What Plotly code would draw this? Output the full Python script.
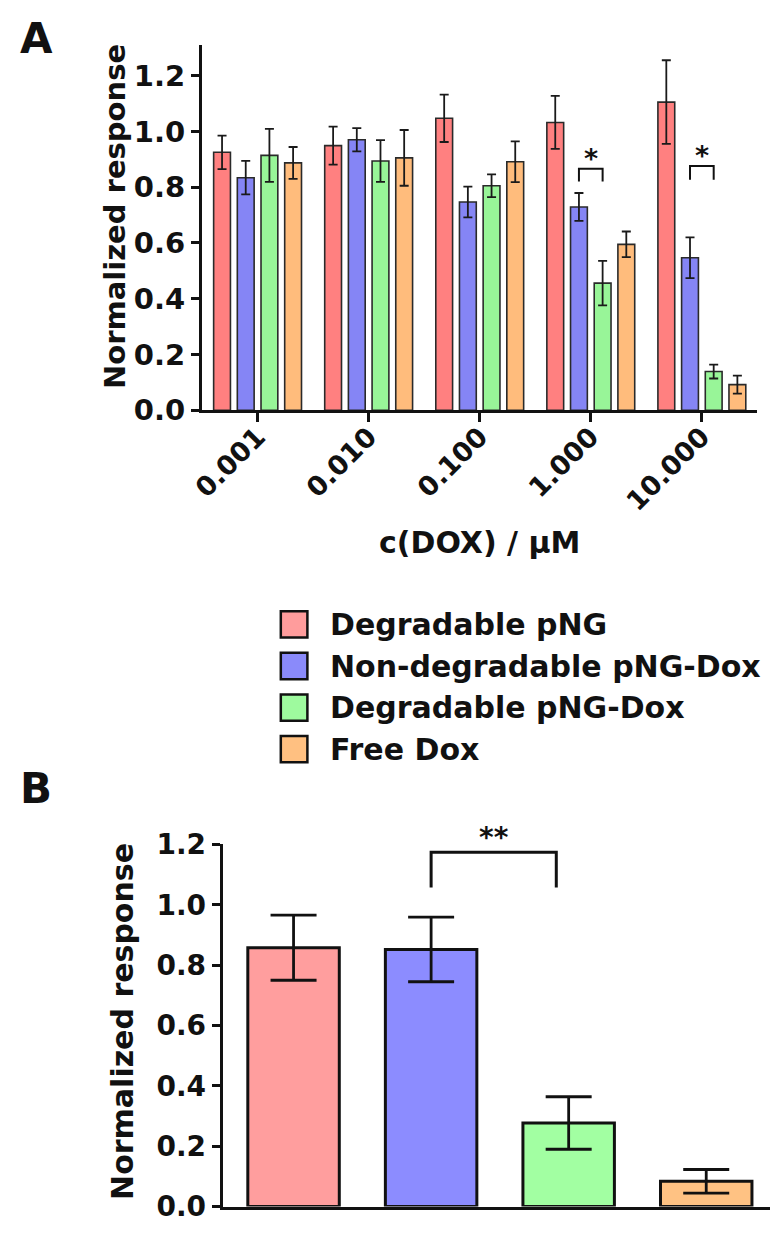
import plotly.graph_objects as go

# ---------------- data ----------------
concentrations = ["0.001", "0.010", "0.100", "1.000", "10.000"]
series_names = ["Degradable pNG", "Non-degradable pNG-Dox", "Degradable pNG-Dox", "Free Dox"]

a_deg_png = [0.925, 0.949, 1.047, 1.032, 1.105]
a_deg_png_err = [0.060, 0.068, 0.085, 0.095, 0.150]
a_nondeg_pngdox = [0.834, 0.970, 0.747, 0.729, 0.547]
a_nondeg_pngdox_err = [0.060, 0.042, 0.055, 0.050, 0.073]
a_deg_pngdox = [0.914, 0.894, 0.805, 0.456, 0.139]
a_deg_pngdox_err = [0.095, 0.075, 0.041, 0.080, 0.025]
a_free_dox = [0.887, 0.905, 0.891, 0.595, 0.092]
a_free_dox_err = [0.057, 0.100, 0.073, 0.046, 0.032]

b_values = [0.858, 0.852, 0.277, 0.084]
b_errors = [0.108, 0.107, 0.087, 0.039]

# significance brackets: (category, top, leg bottom, label)
a_brackets = [("1.000", 0.866, 0.820, "*"), ("10.000", 0.876, 0.827, "*")]
# panel B: (from x, to x, top, leg bottom, label)
b_brackets = [(1.0, 1.91, 1.174, 1.057, "**")]

a_values = [a_deg_png, a_nondeg_pngdox, a_deg_pngdox, a_free_dox]
a_errors = [a_deg_png_err, a_nondeg_pngdox_err, a_deg_pngdox_err, a_free_dox_err]

colors_a = ["#FF8080", "#8585F5", "#98F598", "#FFBC7C"]
colors_b = ["#FF9E9E", "#8C8CFF", "#A2FFA2", "#FFC283"]
colors_leg = ["#FF9C9C", "#8A8AFA", "#9EFA9E", "#FFC081"]

FONT = "DejaVu Sans"
W, H = 782, 1246
BARGAP_A = 0.147

fig = go.Figure()

for i, name in enumerate(series_names):
    fig.add_trace(go.Bar(
        x=concentrations, y=a_values[i], name=name,
        marker=dict(color=colors_a[i], line=dict(color="#2a2a2a", width=1.6)),
        error_y=dict(type="data", array=a_errors[i], visible=True,
                     color="#1a1a1a", thickness=1.8, width=4.5),
        xaxis="x", yaxis="y", showlegend=False,
    ))

fig.add_trace(go.Bar(
    x=list(range(len(b_values))), y=b_values,
    marker=dict(color=colors_b, line=dict(color="#111111", width=3)),
    error_y=dict(type="data", array=b_errors, visible=True,
                 color="#111111", thickness=2.8, width=23),
    xaxis="x2", yaxis="y2", showlegend=False, width=0.665,
))

# ---- brackets panel A ----
n = len(series_names)
slot = (1 - BARGAP_A) / n
off_blue = -(1 - BARGAP_A) / 2 + slot * 1.5
off_green = -(1 - BARGAP_A) / 2 + slot * 2.5
shapes = []
annotations = []
for cat, top, bot, lab in a_brackets:
    c = concentrations.index(cat)
    x0, x1 = c + off_blue, c + off_green
    shapes.append(dict(type="path", xref="x", yref="y",
                       path=f"M{x0},{bot} L{x0},{top} L{x1},{top} L{x1},{bot}",
                       line=dict(color="#111111", width=2)))
    annotations.append(dict(x=c, y=top, xref="x", yref="y", text=lab, showarrow=False,
                            yanchor="bottom", yshift=-7,
                            font=dict(family=FONT, size=27, color="#111111", weight="bold")))

for x0, x1, top, bot, lab in b_brackets:
    shapes.append(dict(type="path", xref="x2", yref="y2",
                       path=f"M{x0},{bot} L{x0},{top} L{x1},{top} L{x1},{bot}",
                       line=dict(color="#111111", width=3)))
    annotations.append(dict(x=(x0 + x1) / 2, y=top, xref="x2", yref="y2", text=lab,
                            showarrow=False, yanchor="bottom", yshift=-4,
                            font=dict(family=FONT, size=28, color="#111111", weight="bold")))

# ---- custom legend (large boxes) ----
leg_box_left, leg_box_right = 273, 300
leg_text_x = 321
leg_first_center, leg_pitch, leg_box_h = 625, 42.7, 27
for i, name in enumerate(series_names):
    cy = leg_first_center + i * leg_pitch
    shapes.append(dict(type="rect", xref="paper", yref="paper",
                       x0=leg_box_left / W, x1=leg_box_right / W,
                       y0=1 - (cy + leg_box_h / 2) / H, y1=1 - (cy - leg_box_h / 2) / H,
                       fillcolor=colors_leg[i], line=dict(color="#111111", width=2.5)))
    annotations.append(dict(x=leg_text_x / W, y=1 - cy / H, xref="paper", yref="paper",
                            text=name, showarrow=False, xanchor="left", yanchor="middle",
                            font=dict(family=FONT, size=30, color="#111111", weight="bold")))

# ---- titles / panel labels ----
def txt(x, y, s, size, angle=0):
    annotations.append(dict(x=x / W, y=1 - y / H, xref="paper", yref="paper", text=s,
                            showarrow=False, textangle=angle, xanchor="center", yanchor="middle",
                            font=dict(family=FONT, size=size, color="#111111", weight="bold")))

txt(25, 23, "A", 42)
txt(24, 794, "B", 42)
txt(104, 206, "Normalized response", 29, -90)
txt(475, 541, "c(DOX) / µM", 30)
txt(112, 1033, "Normalized response", 30, -90)

tickfont_a = dict(family=FONT, size=29, color="#111111", weight="bold")
tickfont_ax = dict(family=FONT, size=27, color="#111111", weight="bold")
tickfont_b = dict(family=FONT, size=28, color="#111111", weight="bold")
yt = [0, 0.2, 0.4, 0.6, 0.8, 1.0, 1.2]
yl = ["0.0", "0.2", "0.4", "0.6", "0.8", "1.0", "1.2"]

fig.update_layout(
    width=W, height=H, margin=dict(l=0, r=0, t=0, b=0),
    paper_bgcolor="white", plot_bgcolor="white",
    barmode="group", bargap=BARGAP_A, bargroupgap=0.29,
    shapes=shapes, annotations=annotations, showlegend=False,
    xaxis=dict(domain=[193 / W, 757 / W], anchor="y", type="category",
               range=[-0.5, 4.5], showline=True, linecolor="#111111", linewidth=3,
               ticks="outside", ticklen=9, tickwidth=2.5, tickcolor="#111111",
               tickangle=-45, tickfont=tickfont_ax, ticklabelstandoff=-12,
               showgrid=False, zeroline=False),
    yaxis=dict(domain=[1 - 405 / H, 1 - 30 / H], anchor="x", range=[0, 1.309],
               tickvals=yt, ticktext=yl,
               showline=True, linecolor="#111111", linewidth=3,
               ticks="outside", ticklen=8, tickwidth=2.5, tickcolor="#111111",
               tickfont=tickfont_a, showgrid=False, zeroline=False),
    xaxis2=dict(domain=[214 / W, 770 / W], anchor="y2", range=[-0.515, 3.465],
                showline=True, linecolor="#111111", linewidth=3, ticks="",
                showticklabels=False, showgrid=False, zeroline=False),
    yaxis2=dict(domain=[1 - 1223 / H, 1 - 851 / H], anchor="x2", range=[0, 1.2],
                tickvals=yt, ticktext=yl,
                showline=True, linecolor="#111111", linewidth=3,
                ticks="outside", ticklen=8, tickwidth=2.5, tickcolor="#111111",
                tickfont=tickfont_b, showgrid=False, zeroline=False),
)

fig.write_html("out.html", config={"displayModeBar": False},
               post_script="document.body.style.margin='0';document.body.style.overflow='hidden';")
